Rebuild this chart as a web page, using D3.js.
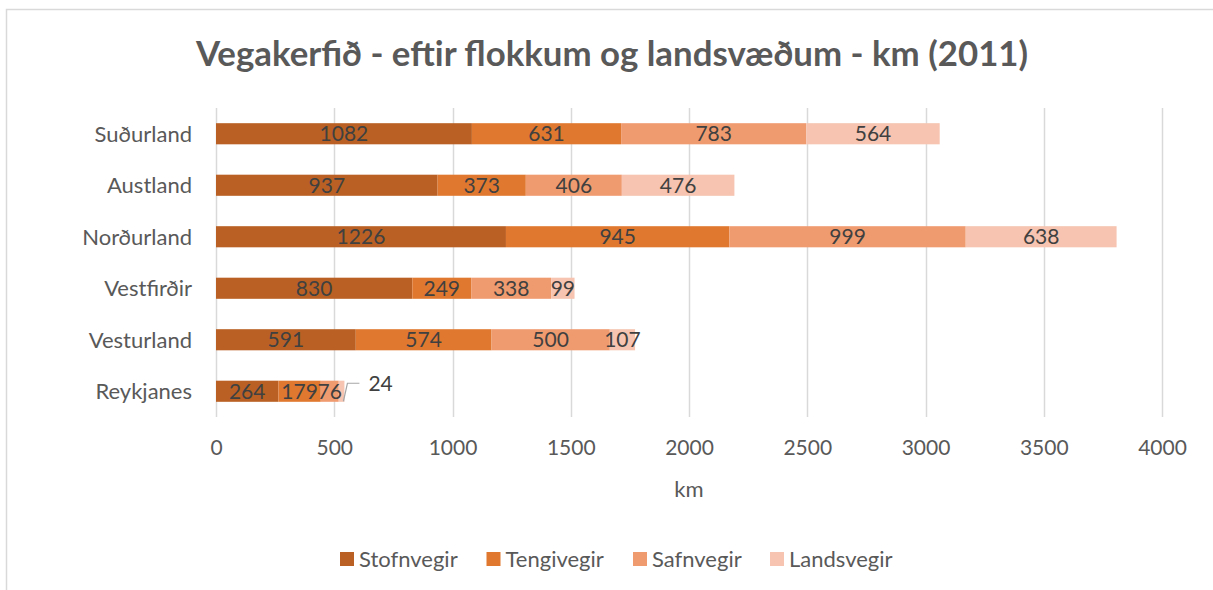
<!DOCTYPE html>
<html>
<head>
<meta charset="utf-8">
<script src="https://cdn.jsdelivr.net/npm/d3@7"></script>
<style>
  body { margin: 0; background: #fff; }
  text { font-family: Lato, "Open Sans", sans-serif; }
</style>
</head>
<body>
<svg id="chart" width="1213" height="590"></svg>
<script>
var regions = ["Suðurland", "Austland", "Norðurland", "Vestfirðir", "Vesturland", "Reykjanes"];
var seriesNames = ["Stofnvegir", "Tengivegir", "Safnvegir", "Landsvegir"];
var stofnvegir = [1082, 937, 1226, 830, 591, 264];
var tengivegir = [631, 373, 945, 249, 574, 179];
var safnvegir = [783, 406, 999, 338, 500, 76];
var landsvegir = [564, 476, 638, 99, 107, 24];
var colors = ["#BA6024", "#E0782F", "#F09B6F", "#F6C4B0"];
var xTicks = [0, 500, 1000, 1500, 2000, 2500, 3000, 3500, 4000];

var svg = d3.select("#chart");

// chart frame (cut off at right and bottom)
svg.append("rect")
    .attr("x", 6.5).attr("y", 9.5)
    .attr("width", 1300).attr("height", 700)
    .attr("fill", "none")
    .attr("stroke", "#d9d9d9")
    .attr("stroke-width", 1.5);

svg.append("text")
    .attr("x", 612).attr("y", 66)
    .attr("text-anchor", "middle")
    .style("font-size", "34.8px")
    .style("font-weight", "bold")
    .attr("fill", "#595959")
    .text("Vegakerfið - eftir flokkum og landsvæðum - km (2011)");

var table = regions.map(function (r, i) {
  return {region: r, Stofnvegir: stofnvegir[i], Tengivegir: tengivegir[i],
          Safnvegir: safnvegir[i], Landsvegir: landsvegir[i]};
});

var x = d3.scaleLinear().domain([0, 4000]).range([216, 1162]);
var y = d3.scaleBand().domain(regions).range([108, 417]).paddingInner(0.59).paddingOuter(0.295);

// gridlines
svg.append("g").selectAll("line")
    .data(xTicks)
    .join("line")
    .attr("x1", function (d) { return Math.round(x(d)) + 0.5; })
    .attr("x2", function (d) { return Math.round(x(d)) + 0.5; })
    .attr("y1", 108).attr("y2", 417)
    .attr("stroke", "#d9d9d9")
    .attr("stroke-width", 1.5);

var stack = d3.stack().keys(seriesNames)(table);

var layers = svg.append("g").selectAll("g")
    .data(stack)
    .join("g")
    .attr("fill", function (d, i) { return colors[i]; });

layers.selectAll("rect")
    .data(function (d) { return d; })
    .join("rect")
    .attr("x", function (d) { return x(d[0]); })
    .attr("width", function (d) { return x(d[1]) - x(d[0]); })
    .attr("y", function (d) { return y(d.data.region); })
    .attr("height", y.bandwidth());

// data labels
stack.forEach(function (layer) {
  svg.append("g").selectAll("text")
      .data(layer.filter(function (d) { return d.data.region !== "Reykjanes" || layer.key !== "Landsvegir"; }))
      .join("text")
      .attr("x", function (d) { return (x(d[0]) + x(d[1])) / 2; })
      .attr("y", function (d) { return y(d.data.region) + y.bandwidth() / 2; })
      .attr("dy", "0.36em")
      .attr("text-anchor", "middle")
      .attr("fill", "#404040")
      .style("font-size", "21px")
      .text(function (d) { return d[1] - d[0]; });
});

// leader line for the small Reykjanes value
var last = stack[3][5];
var lx = x(last[1]) - 1, ly = y(last.data.region) + y.bandwidth() / 2;
svg.append("path")
    .attr("d", "M" + lx + "," + (ly + 10) + "L" + (lx + 4) + "," + (ly - 8) + "H" + (lx + 16))
    .attr("fill", "none")
    .attr("stroke", "#a6a6a6")
    .attr("stroke-width", 1.2);
svg.append("text")
    .attr("x", lx + 25).attr("y", ly - 8)
    .attr("dy", "0.36em")
    .attr("fill", "#404040")
    .style("font-size", "21px")
    .text(last[1] - last[0]);

// category axis
svg.append("g").selectAll("text")
    .data(regions)
    .join("text")
    .attr("x", 192)
    .attr("y", function (d) { return y(d) + y.bandwidth() / 2; })
    .attr("dy", "0.36em")
    .attr("text-anchor", "end")
    .attr("fill", "#595959")
    .style("font-size", "22px")
    .text(function (d) { return d; });

// value axis
var xAxis = svg.append("g")
    .attr("transform", "translate(0,417)")
    .call(d3.axisBottom(x).tickValues(xTicks).tickFormat(d3.format("d")).tickSize(0).tickPadding(23));
xAxis.select(".domain").remove();
xAxis.selectAll("text")
    .attr("fill", "#595959")
    .style("font-size", "21px")
    .style("font-family", "Lato, sans-serif");

svg.append("text")
    .attr("x", 689).attr("y", 489)
    .attr("dy", "0.36em")
    .attr("text-anchor", "middle")
    .attr("fill", "#595959")
    .style("font-size", "22px")
    .text("km");

// legend
var legendX = [340, 486.5, 633, 770];
var legend = svg.append("g").selectAll("g")
    .data(seriesNames)
    .join("g")
    .attr("transform", function (d, i) { return "translate(" + legendX[i] + ",559)"; });
legend.append("rect")
    .attr("x", 0).attr("y", -7)
    .attr("width", 14).attr("height", 14)
    .attr("fill", function (d, i) { return colors[i]; });
legend.append("text")
    .attr("x", 19)
    .attr("dy", "0.36em")
    .attr("fill", "#595959")
    .style("font-size", "22px")
    .text(function (d) { return d; });
</script>
</body>
</html>
